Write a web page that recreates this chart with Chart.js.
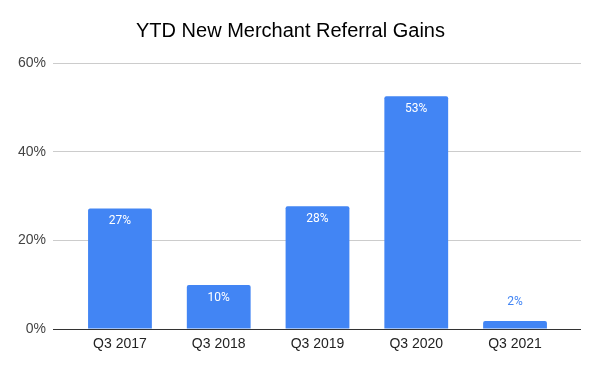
<!DOCTYPE html>
<html>
<head>
<meta charset="utf-8">
<script src="https://cdn.jsdelivr.net/npm/chart.js@4"></script>
<style>
  body { margin: 0; background: #fff; }
  #wrap { width: 600px; height: 371px; }
</style>
</head>
<body>
<div id="wrap"><canvas id="bar-chart"></canvas></div>
<script>
var categories = ["Q3 2017", "Q3 2018", "Q3 2019", "Q3 2020", "Q3 2021"];
var gains = [27.2, 9.9, 27.7, 52.5, 1.8];
var gainLabels = ["27%", "10%", "28%", "53%", "2%"];
var yTicks = [0, 20, 40, 60];

// draws the value labels (inside bar, or above when the bar is short)
var valueLabels = {
  id: "valueLabels",
  afterDatasetsDraw: function (chart) {
    var ctx = chart.ctx;
    var meta = chart.getDatasetMeta(0);
    ctx.save();
    ctx.font = "12px Roboto";
    ctx.textAlign = "center";
    ctx.textBaseline = "middle";
    meta.data.forEach(function (bar, i) {
      var h = bar.base - bar.y;
      if (h > 30) {
        ctx.fillStyle = "#ffffff";
        ctx.fillText(gainLabels[i], bar.x, bar.y + 13);
      } else {
        ctx.fillStyle = "#4285f4";
        ctx.fillText(gainLabels[i], bar.x, bar.y - 19);
      }
    });
    ctx.restore();
  }
};

var ctx = document.getElementById("bar-chart").getContext("2d");
new Chart(ctx, {
  type: "bar",
  data: {
    datasets: [
      {
        data: categories.map(function (c, i) { return { x: i, y: gains[i] }; }),
        backgroundColor: "#4285f4",
        borderRadius: { topLeft: 2, topRight: 2 },
        borderSkipped: "bottom",
        barPercentage: 1,
        categoryPercentage: 0.646
      }
    ]
  },
  options: {
    responsive: true,
    maintainAspectRatio: false,
    animation: false,
    layout: { padding: { left: 0, right: 19, top: 0, bottom: 0 } },
    plugins: {
      legend: { display: false },
      tooltip: { enabled: false },
      title: {
        display: true,
        text: "YTD New Merchant Referral Gains",
        color: "#000",
        font: { family: "Liberation Sans", size: 20, weight: "normal" },
        padding: { top: 19, bottom: 20 }
      }
    },
    scales: {
      x: {
        type: "linear",
        offset: false,
        min: -0.678,
        max: 4.668,
        grid: { display: false, drawTicks: false },
        border: { display: false },
        afterBuildTicks: function (scale) {
          scale.ticks = categories.map(function (c, i) { return { value: i }; });
        },
        afterFit: function (scale) { scale.height = 42; },
        ticks: {
          autoSkip: false,
          maxRotation: 0,
          padding: 7,
          color: "#222",
          font: { family: "Liberation Sans", size: 14 },
          callback: function (v) { return categories[v]; }
        }
      },
      y: {
        min: 0,
        max: 60,
        border: { display: false },
        afterBuildTicks: function (scale) {
          scale.ticks = yTicks.map(function (v) { return { value: v }; });
        },
        afterFit: function (scale) { scale.width = 53; },
        grid: {
          drawTicks: false,
          color: function (c) { return c.tick.value === 0 ? "#333" : "#cccccc"; },
          lineWidth: 1
        },
        ticks: {
          padding: 7,
          color: "#444",
          font: { family: "Liberation Sans", size: 14 },
          callback: function (v) { return v + "%"; }
        }
      }
    }
  },
  plugins: [valueLabels]
});
</script>
</body>
</html>
